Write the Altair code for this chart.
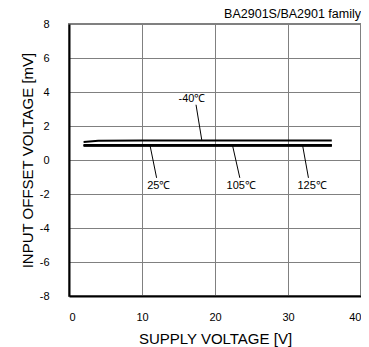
import altair as alt
import pandas as pd

# Data
supply_v = [2, 4, 10, 20, 30, 36]
vio_m40 = [1.06, 1.13, 1.14, 1.14, 1.14, 1.14]
vio_25 = [0.88, 0.88, 0.88, 0.88, 0.88, 0.88]
vio_105 = [0.86, 0.86, 0.86, 0.86, 0.86, 0.86]
vio_125 = [0.84, 0.84, 0.84, 0.84, 0.84, 0.84]

series_names = ["-40℃", "25℃", "105℃", "125℃"]
series_vals = [vio_m40, vio_25, vio_105, vio_125]

label_text = ["-40℃", "25℃", "105℃", "125℃"]
label_x = [16.85, 12.3, 23.6, 33.3]
label_y = [3.57, -1.55, -1.55, -1.55]

leader_x1 = [17.4, 11.1, 22.4, 32.0]
leader_y1 = [3.25, 0.86, 0.86, 0.86]
leader_x2 = [18.2, 12.0, 23.4, 32.8]
leader_y2 = [1.14, -1.05, -1.05, -1.05]

x_ticks = [0, 10, 20, 30, 40]
y_ticks = [-8, -6, -4, -2, 0, 2, 4, 6, 8]

rows = []
for name, vals in zip(series_names, series_vals):
    for v, y in zip(supply_v, vals):
        rows.append({"series": name, "v": v, "vio": y})
df = pd.DataFrame(rows)

labels = pd.DataFrame({"t": label_text, "v": label_x, "vio": label_y})
leaders = pd.DataFrame({"v": leader_x1, "vio": leader_y1, "v2": leader_x2, "vio2": leader_y2})

FONT = "Liberation Sans"

xscale = alt.Scale(domain=[0, 40], nice=False)
yscale = alt.Scale(domain=[-8, 8], nice=False)

common = dict(ticks=False, grid=True, gridColor="#808080", gridWidth=1,
              domainColor="black", domainWidth=2, labelFont=FONT, labelFontSize=11,
              labelColor="black", titleFont=FONT, titleFontWeight="normal",
              titleColor="black", labelOverlap=False, labelExpr="'' + datum.value")

xaxis = alt.Axis(values=x_ticks, title="SUPPLY VOLTAGE [V]", labelPadding=15,
                 titlePadding=9, titleFontSize=15, **common)
yaxis = alt.Axis(values=y_ticks, title="INPUT OFFSET VOLTAGE [mV]", labelPadding=20,
                 titlePadding=4, titleFontSize=15, **common)

X = alt.X("v:Q", scale=xscale, axis=xaxis)
Y = alt.Y("vio:Q", scale=yscale, axis=yaxis)

lines = alt.Chart(df).mark_line(color="black", strokeWidth=2).encode(
    x=X, y=Y, detail="series:N",
)

rules = alt.Chart(leaders).mark_rule(color="black", strokeWidth=1).encode(
    x=X, y=Y, x2="v2:Q", y2="vio2:Q"
)

texts = alt.Chart(labels).mark_text(font=FONT, fontSize=11, color="black",
                                    align="center", baseline="middle").encode(
    x=X, y=Y, text="t:N"
)

title_txt = alt.Chart(pd.DataFrame({"t": ["BA2901S/BA2901 family"]})).mark_text(
    font=FONT, fontSize=12.5, color="black", align="right", baseline="middle"
).encode(x=alt.value(292), y=alt.value(-10), text="t:N")

chart = alt.layer(lines, rules, texts, title_txt).properties(
    width=292, height=272,
    autosize=alt.AutoSizeParams(type="none"),
    padding={"left": 61, "top": 16, "right": 0, "bottom": 51},
).configure_view(stroke="#808080", strokeWidth=2)

chart.save("out.html", embed_options={"renderer": "svg", "actions": False})
